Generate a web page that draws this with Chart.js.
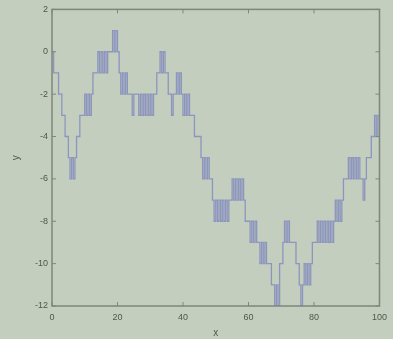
<!DOCTYPE html>
<html lang="en">
<head>
    <meta charset="UTF-8">
    <title>Stairs plot</title>
    <script src="https://cdn.jsdelivr.net/npm/chart.js@4.4.1/dist/chart.umd.min.js"></script>
    <style>
        html, body { margin: 0; padding: 0; background: #c3cebf; }
        #wrap { width: 393px; height: 339px; }
    </style>
</head>
<body>
    <div id="wrap"><canvas id="plot"></canvas></div>

    <script>
        // sample spacing along x
        const sampleStep = 0.5;

        // quantized signal, one value per sample (x = 0, 0.5, 1, ... 100)
        const yValues = [
            0, 0, -1, -1, -1, -2, -2, -3, -3, -4,
            -4, -5, -6, -5, -6, -5, -4, -4, -3, -3,
            -3, -2, -3, -2, -3, -2, -1, -1, -1, 0,
            -1, 0, -1, 0, -1, 0, 0, 0, 1, 0,
            1, 0, -1, -2, -1, -2, -1, -2, -2, -2,
            -3, -2, -2, -2, -3, -2, -3, -2, -3, -2,
            -3, -2, -3, -2, -2, -1, -1, 0, -1, 0,
            -1, -1, -2, -2, -3, -2, -2, -1, -2, -1,
            -2, -3, -2, -3, -2, -3, -3, -3, -4, -4,
            -4, -4, -5, -6, -5, -6, -5, -6, -6, -7,
            -8, -7, -8, -7, -8, -7, -8, -7, -8, -7,
            -7, -6, -7, -6, -7, -6, -7, -6, -7, -8,
            -8, -8, -9, -8, -9, -8, -9, -9, -10, -9,
            -10, -9, -10, -10, -10, -11, -11, -12, -11, -12,
            -10, -10, -9, -8, -9, -8, -9, -9, -9, -9,
            -10, -10, -11, -12, -11, -10, -11, -10, -11, -10,
            -9, -9, -9, -8, -9, -8, -9, -8, -9, -8,
            -9, -8, -9, -8, -7, -8, -7, -8, -7, -6,
            -6, -6, -5, -6, -5, -6, -5, -6, -5, -6,
            -6, -7, -6, -5, -5, -5, -4, -4, -3, -4,
            -3
        ];

        const xTicks = [0, 20, 40, 60, 80, 100];
        const yTicks = [-12, -10, -8, -6, -4, -2, 0, 2];

        const puntos = yValues.map((v, i) => ({ x: i * sampleStep, y: v }));

        const axisColor = '#7d877b';
        const textColor = '#4f574e';

        // background + box + inward ticks (MATLAB look)
        const marcoPlugin = {
            id: 'marco',
            beforeDraw(chart) {
                const ctx = chart.ctx;
                ctx.save();
                ctx.fillStyle = '#c3cebf';
                ctx.fillRect(0, 0, chart.width, chart.height);
                ctx.restore();
            },
            afterDraw(chart) {
                const { ctx, chartArea: a, scales } = chart;
                ctx.save();
                ctx.strokeStyle = axisColor;
                ctx.lineWidth = 1.5;
                ctx.strokeRect(a.left, a.top, a.right - a.left, a.bottom - a.top);
                ctx.lineWidth = 1;
                const len = 4;
                xTicks.forEach(t => {
                    const px = scales.x.getPixelForValue(t);
                    ctx.beginPath();
                    ctx.moveTo(px, a.bottom); ctx.lineTo(px, a.bottom - len);
                    ctx.moveTo(px, a.top); ctx.lineTo(px, a.top + len);
                    ctx.stroke();
                });
                yTicks.forEach(t => {
                    const py = scales.y.getPixelForValue(t);
                    ctx.beginPath();
                    ctx.moveTo(a.left, py); ctx.lineTo(a.left + len, py);
                    ctx.moveTo(a.right, py); ctx.lineTo(a.right - len, py);
                    ctx.stroke();
                });
                ctx.restore();
            }
        };

        new Chart(document.getElementById('plot'), {
            type: 'line',
            data: {
                datasets: [{
                    data: puntos,
                    stepped: 'after',
                    borderColor: '#8c95bd',
                    borderWidth: 1.3,
                    pointRadius: 0,
                    fill: false
                }]
            },
            options: {
                responsive: true,
                maintainAspectRatio: false,
                animation: false,
                layout: { padding: { top: 9, right: 4, left: 0, bottom: 0 } },
                plugins: { legend: { display: false }, tooltip: { enabled: false } },
                scales: {
                    x: {
                        type: 'linear',
                        min: 0, max: 100,
                        afterBuildTicks: s => { s.ticks = xTicks.map(v => ({ value: v })); },
                        afterFit: s => { s.height = 33; },
                        grid: { display: false, drawTicks: false },
                        border: { display: false },
                        ticks: { color: textColor, font: { family: 'Arial', size: 9 }, padding: 6, maxRotation: 0 },
                        title: { display: true, text: 'x', color: textColor, font: { family: 'Arial', size: 10 }, padding: 0 }
                    },
                    y: {
                        min: -12, max: 2,
                        afterBuildTicks: s => { s.ticks = yTicks.map(v => ({ value: v })); },
                        afterFit: s => { s.width = 52; },
                        grid: { display: false, drawTicks: false },
                        border: { display: false },
                        ticks: { color: textColor, font: { family: 'Arial', size: 9 }, padding: 4 },
                        title: { display: true, text: 'y', color: textColor, font: { family: 'Arial', size: 10 }, padding: { top: 10, bottom: 0 } }
                    }
                }
            },
            plugins: [marcoPlugin]
        });
    </script>
</body>
</html>
